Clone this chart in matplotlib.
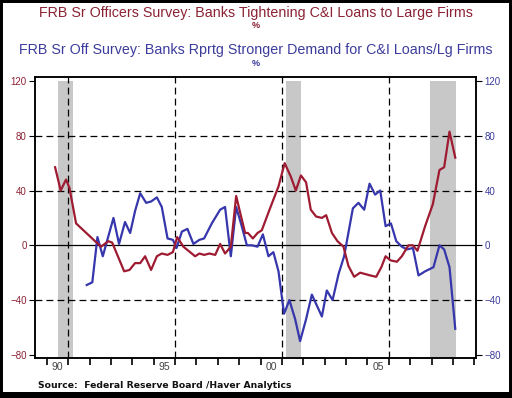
import numpy as np
import matplotlib
matplotlib.use("Agg")
import matplotlib.pyplot as plt
from matplotlib.patches import Rectangle

plt.rcParams['font.family'] = ['Liberation Sans', 'DejaVu Sans']

# Banks tightening C&I loans to large firms (net %)
tight_dates = [1990.39, 1990.65, 1990.90, 1991.06, 1991.37, 1992.26, 1992.54, 1992.88, 1993.06,
               1993.62, 1993.87, 1994.13, 1994.37, 1994.60, 1994.88, 1995.15, 1995.38, 1995.65,
               1995.90, 1996.10, 1996.39, 1996.94, 1997.14, 1997.36, 1997.61, 1997.88, 1998.11,
               1998.34, 1998.61, 1998.86, 1999.09, 1999.28, 1999.41, 1999.64, 1999.86, 2000.06,
               2000.42, 2000.84, 2001.13, 2001.42, 2001.65, 2001.89, 2002.13, 2002.35, 2002.60,
               2002.87, 2003.07, 2003.34, 2003.60, 2003.88, 2004.11, 2004.38, 2004.66, 2004.90,
               2005.13, 2005.41, 2005.65, 2005.85, 2006.08, 2006.38, 2006.61, 2006.92, 2007.13,
               2007.34, 2007.70, 2008.06, 2008.37, 2008.59, 2008.84, 2009.11]
tight_vals = [57, 40, 48, 42, 16, 3, -1, 3, 2,
              -19, -18, -13, -13, -8, -18, -8, -6, -7,
              -5, 6, -1, -8, -6, -7, -6, -7, 1,
              -6, -1, 36, 21, 9, 9, 5, 9, 11,
              26, 43, 60, 50, 40, 51, 46, 26, 21,
              20, 22, 9, 3, -1, -15, -23, -20, -21,
              -22, -23, -16, -8, -11, -12, -8, 0, 0,
              -4, 14, 30, 55, 57, 83, 64]

# Banks reporting stronger demand for C&I loans from large firms (net %)
demand_dates = [1991.87, 1992.13, 1992.37, 1992.62, 1993.12, 1993.38, 1993.66, 1993.90, 1994.13,
                1994.37, 1994.65, 1994.88, 1995.15, 1995.38, 1995.65, 1995.90, 1996.07, 1996.32,
                1996.58, 1996.86, 1997.14, 1997.36, 1997.72, 1998.11, 1998.34, 1998.61, 1998.86,
                1999.12, 1999.36, 1999.59, 1999.86, 2000.11, 2000.37, 2000.60, 2000.84, 2001.10,
                2001.35, 2001.62, 2001.85, 2002.13, 2002.40, 2002.87, 2003.10, 2003.37, 2003.65,
                2003.91, 2004.32, 2004.58, 2004.85, 2005.10, 2005.36, 2005.60, 2005.85, 2006.10,
                2006.35, 2006.61, 2006.85, 2007.13, 2007.39, 2007.70, 2008.09, 2008.37, 2008.59,
                2008.84, 2009.11]
demand_vals = [-29, -27, 6, -8, 20, 1, 17, 9, 25,
               38, 31, 32, 35, 28, 5, 4, -2, 10,
               12, 1, 4, 5, 16, 26, 28, -8, 28,
               14, 0, 0, -1, 8, -8, -5, -19, -50,
               -40, -54, -70, -54, -36, -52, -33, -40, -21,
               -8, 27, 31, 26, 45, 37, 40, 14, 16,
               3, -1, -3, -2, -22, -19, -16, 0, -3,
               -16, -61]

recessions = [(1990.54, 1991.21), (2001.20, 2001.89), (2007.94, 2009.15)]
year_labels = ['90', '95', '00', '05']
label_years = [1990, 1995, 2000, 2005]

red = '#9e1b32'
blue = '#3636ad'
red_txt = '#8b2233'
blue_txt = '#3c3c9c'

fig = plt.figure(figsize=(5.12, 3.98), dpi=100)
ax = fig.add_axes([0.0684, 0.1005, 0.8613, 0.706])
ylo, yhi = -82.3, 122.9

for a, b in recessions:
    ax.fill_between([a, b], ylo, 120, color='#c8c8c8', lw=0, zorder=0)

for yv in [-40, 40, 80]:
    ax.axhline(yv, color='black', lw=0.9, dashes=(5.5, 3.3), zorder=1)
ax.axhline(0, color='black', lw=0.9, zorder=1)
for xv in [1991, 1996, 2001, 2006]:
    ax.axvline(xv, color='black', lw=0.9, dashes=(5.5, 3.3), zorder=1)

ax.plot(tight_dates, tight_vals, color=red, lw=1.6, zorder=3)
ax.plot(demand_dates, demand_vals, color=blue, lw=1.6, zorder=2)

ax.set_xlim(1989.45, 2010.08)
ax.set_ylim(ylo, yhi)
ax.set_yticks([-80, -40, 0, 40, 80, 120])
ax.tick_params(axis='y', direction='out', length=4, width=0.8, pad=2,
               labelsize=7, labelcolor=red_txt)

ax.set_xticks(range(1990, 2011))
ax.set_xticklabels([])
ax.set_xticks([y + 0.5 for y in label_years], minor=True)
ax.set_xticklabels(year_labels, minor=True)
ax.tick_params(axis='x', which='major', direction='out', length=5, width=1.2)
ax.tick_params(axis='x', which='minor', length=0, pad=3, labelsize=7.5, labelcolor='#444444')

ax2 = ax.twinx()
ax2.set_ylim(ylo, yhi)
ax2.set_yticks([-80, -40, 0, 40, 80, 120])
ax2.tick_params(axis='y', direction='out', length=4, width=0.8, pad=2,
                labelsize=7, labelcolor=blue_txt)

for a_ in (ax, ax2):
    for s in a_.spines.values():
        s.set_linewidth(1.1)

fig.text(0.5, 1 - 13 / 398, 'FRB Sr Officers Survey: Banks Tightening C&I Loans to Large Firms',
         ha='center', va='center', color=red_txt, fontsize=10.3)
fig.text(0.5, 1 - 26 / 398, '%', ha='center', va='center', color=red_txt, fontsize=6.5, weight='bold')
fig.text(0.5, 1 - 50 / 398, 'FRB Sr Off Survey: Banks Rprtg Stronger Demand for C&I Loans/Lg Firms',
         ha='center', va='center', color=blue_txt, fontsize=10.25)
fig.text(0.5, 1 - 63 / 398, '%', ha='center', va='center', color=blue_txt, fontsize=6.5, weight='bold')

fig.text(38 / 512, 1 - 385 / 398, 'Source:  Federal Reserve Board /Haver Analytics',
         ha='left', va='center', color='#111111', fontsize=6.7, weight='bold',
         family=['DejaVu Sans'])

# black frame round the picture
fig.patches.append(Rectangle((0, 0), 1, 1, transform=fig.transFigure, fill=False,
                             edgecolor='black', linewidth=4.3))
fig.patches.append(Rectangle((0, 0), 1, 6 / 398, transform=fig.transFigure,
                             facecolor='black', edgecolor='none'))

plt.savefig('out.png', dpi=100)
